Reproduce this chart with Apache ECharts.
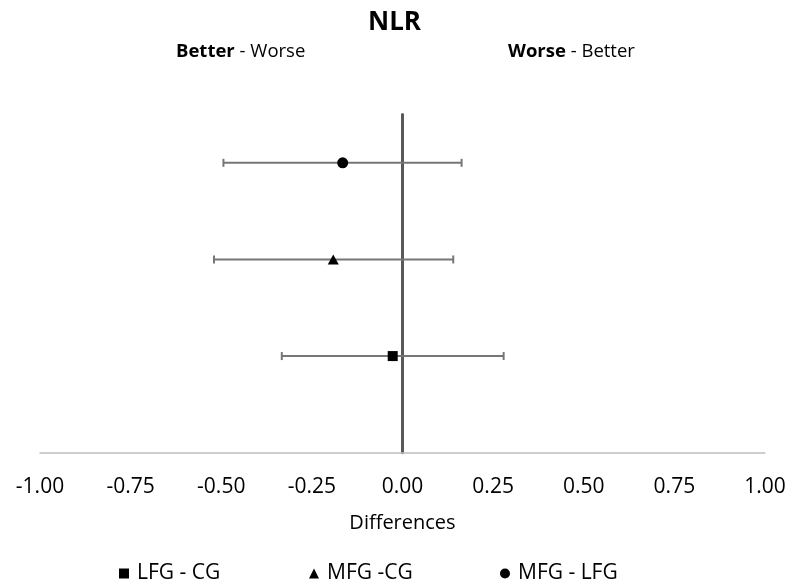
<!DOCTYPE html>
<html>
<head>
<meta charset="utf-8">
<style>
  html, body { margin: 0; padding: 0; background: #ffffff; }
  #chart { width: 789px; height: 587px; }
</style>
<script src="https://cdn.jsdelivr.net/npm/echarts@6/dist/echarts.min.js"></script>
</head>
<body>
<div id="chart"></div>
<script>
// Comparisons, bottom row first
const categories = ['LFG - CG', 'MFG -CG', 'MFG - LFG'];
const rowPos = [1, 2, 3];
const meanDiff = [-0.027, -0.191, -0.165];
const lowerCI = [-0.333, -0.520, -0.494];
const upperCI = [0.279, 0.140, 0.163];
const symbols = ['rect', 'triangle', 'circle'];
const xTicks = [-1, -0.75, -0.5, -0.25, 0, 0.25, 0.5, 0.75, 1];

const FONT = '"Open Sans", "Liberation Sans", sans-serif';

const chart = echarts.init(document.getElementById('chart'));

const pointSeries = categories.map((name, i) => ({
  name: name,
  type: 'scatter',
  symbol: symbols[i],
  symbolSize: symbols[i] === 'triangle' ? [11, 10] : (symbols[i] === 'rect' ? 10 : 11),
  itemStyle: { color: '#000000', opacity: 1 },
  emphasis: { disabled: true },
  z: 5,
  data: [[meanDiff[i], rowPos[i]]]
}));

const errorData = categories.map((_, i) => [lowerCI[i], upperCI[i], rowPos[i]]);

const errorSeries = {
  type: 'custom',
  name: 'CI',
  z: 3,
  encode: { x: [0, 1], y: 2 },
  data: errorData,
  renderItem: function (params, api) {
    const lo = api.coord([api.value(0), api.value(2)]);
    const hi = api.coord([api.value(1), api.value(2)]);
    const cap = 4;
    const style = { stroke: '#767676', lineWidth: 2 };
    return {
      type: 'group',
      children: [
        { type: 'line', shape: { x1: lo[0], y1: lo[1], x2: hi[0], y2: hi[1] }, style: style },
        { type: 'line', shape: { x1: lo[0], y1: lo[1] - cap, x2: lo[0], y2: lo[1] + cap }, style: style },
        { type: 'line', shape: { x1: hi[0], y1: hi[1] - cap, x2: hi[0], y2: hi[1] + cap }, style: style }
      ]
    };
  }
};

const legendLeft = [119, 309, 500];

const subStyle = {
  fontFamily: FONT, fontSize: 18.5, fontWeight: 'normal', color: '#000000',
  rich: { b: { fontFamily: FONT, fontSize: 18.5, fontWeight: 'bold', color: '#000000' } }
};

chart.setOption({
  animation: false,
  backgroundColor: '#ffffff',
  textStyle: { fontFamily: FONT },
  title: [
    {
      text: 'NLR',
      left: 'center',
      top: 5,
      textStyle: { fontFamily: FONT, fontSize: 26, fontWeight: 'bold', color: '#000000' }
    },
    { text: '{b|Better} - Worse', left: 171, top: 37, textStyle: subStyle },
    { text: '{b|Worse} - Better', left: 503, top: 37, textStyle: subStyle }
  ],
  legend: categories.map((name, i) => ({
    data: [{ name: name, icon: symbols[i], itemStyle: { color: '#000000', opacity: 1 } }],
    left: legendLeft[i],
    top: 563,
    padding: 0,
    itemWidth: 10,
    itemHeight: 10,
    itemGap: 8,
    textStyle: { fontFamily: FONT, fontSize: 21, color: '#000000', padding: [0, 0, 0, 3] },
    selectedMode: false
  })),
  grid: { left: 40, right: 24, top: 114.5, bottom: 134.3, containLabel: false },
  xAxis: {
    type: 'value',
    min: xTicks[0],
    max: xTicks[xTicks.length - 1],
    interval: 0.25,
    name: 'Differences',
    nameLocation: 'middle',
    nameGap: 61,
    nameTextStyle: { fontFamily: FONT, fontSize: 20, color: '#000000' },
    axisLine: { show: true, onZero: false, lineStyle: { color: '#bfbfbf', width: 1.5 } },
    axisTick: { show: false },
    splitLine: { show: false },
    axisLabel: {
      margin: 24,
      fontFamily: FONT,
      fontSize: 21,
      color: '#000000',
      formatter: v => v.toFixed(2)
    }
  },
  yAxis: {
    type: 'value',
    min: 0,
    max: 3.5,
    axisLine: { show: true, onZero: true, lineStyle: { color: '#595959', width: 3 } },
    axisTick: { show: false },
    axisLabel: { show: false },
    splitLine: { show: false }
  },
  series: [errorSeries].concat(pointSeries)
});
</script>
</body>
</html>
